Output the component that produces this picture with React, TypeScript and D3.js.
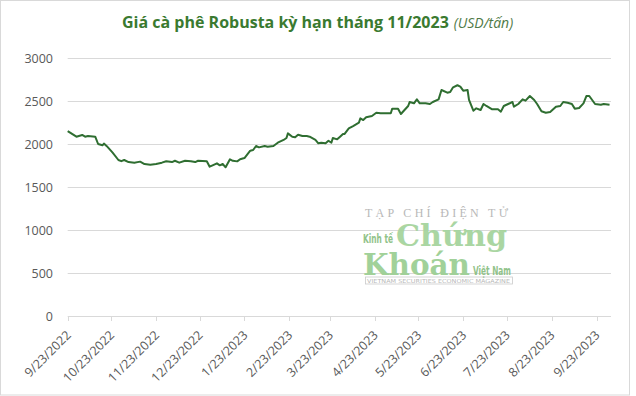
import React from "react";
import * as d3 from "d3";

const dates = [
  "2022-09-23","2022-09-29","2022-10-03","2022-10-05","2022-10-07","2022-10-12","2022-10-14","2022-10-17","2022-10-18","2022-10-20","2022-10-22","2022-10-24","2022-10-28","2022-10-30","2022-11-01","2022-11-04","2022-11-08","2022-11-12","2022-11-15","2022-11-19","2022-11-23","2022-11-27","2022-11-30","2022-12-04","2022-12-06","2022-12-09","2022-12-13","2022-12-17","2022-12-20","2022-12-22","2022-12-28","2022-12-30",
  "2023-01-01","2023-01-04","2023-01-06","2023-01-08","2023-01-10","2023-01-13","2023-01-15","2023-01-18","2023-01-20","2023-01-23","2023-01-27","2023-01-29","2023-01-31","2023-02-02","2023-02-06","2023-02-08","2023-02-12","2023-02-15","2023-02-19","2023-02-21","2023-02-22","2023-02-25","2023-02-27","2023-03-01","2023-03-04","2023-03-07","2023-03-09","2023-03-13","2023-03-15","2023-03-17","2023-03-20","2023-03-22","2023-03-24","2023-03-25","2023-03-28","2023-03-30","2023-04-01","2023-04-02","2023-04-05","2023-04-08","2023-04-12","2023-04-13","2023-04-15","2023-04-17","2023-04-21","2023-04-24","2023-04-27","2023-05-04","2023-05-05","2023-05-09","2023-05-11","2023-05-13","2023-05-16","2023-05-17","2023-05-20","2023-05-22","2023-05-24","2023-05-28","2023-05-31","2023-06-02","2023-06-06","2023-06-08","2023-06-12","2023-06-14","2023-06-16","2023-06-19","2023-06-21","2023-06-23","2023-06-26","2023-06-27","2023-06-30","2023-07-02","2023-07-05","2023-07-07","2023-07-09","2023-07-13","2023-07-17","2023-07-19","2023-07-21","2023-07-24","2023-07-27","2023-07-28","2023-07-31","2023-08-03","2023-08-05","2023-08-08","2023-08-11","2023-08-13","2023-08-16","2023-08-19","2023-08-22","2023-08-26","2023-08-29","2023-08-31","2023-09-03","2023-09-06","2023-09-08","2023-09-11","2023-09-14","2023-09-16","2023-09-18","2023-09-22","2023-09-26","2023-09-28","2023-10-02"
];

const prices = [
  2150,2085,2105,2085,2093,2085,2000,1985,2005,1975,1938,1900,1814,1800,1814,1790,1783,1795,1767,1760,1767,1783,1800,1790,1805,1783,1805,1800,1790,1805,1800,1736,
  1752,1775,1752,1767,1729,1822,1805,1798,1822,1837,1922,1930,1977,1961,1977,1969,1977,2015,2047,2070,2124,2085,2078,2108,2093,2093,2085,2047,2008,2015,2008,2038,2015,2070,2054,2085,2116,2116,2182,2209,2248,2298,2279,2310,2326,2364,2357,2357,2411,2411,2349,2387,2442,2488,2473,2519,2473,2473,2465,2488,2519,2628,2597,2605,2659,2683,2667,2620,2628,2512,2387,2415,2395,2465,2442,2403,2403,2376,2442,2465,2488,2434,2465,2519,2504,2558,2512,2465,2380,2364,2372,2434,2442,2488,2480,2465,2411,2419,2473,2558,2558,2465,2457,2465,2457
];

const yTicks = [0, 500, 1000, 1500, 2000, 2500, 3000];
const xTickLabels = [
  "9/23/2022","10/23/2022","11/23/2022","12/23/2022","1/23/2023","2/23/2023","3/23/2023",
  "4/23/2023","5/23/2023","6/23/2023","7/23/2023","8/23/2023","9/23/2023"
];
const xDomain = ["2022-09-23", "2023-10-03"];

const titleMain = "Giá cà phê Robusta kỳ hạn tháng 11/2023";
const titleUnit = "(USD/tấn)";

export default function App() {
  const W = 636, H = 396;
  const parse = d3.timeParse("%Y-%m-%d");
  const parseLabel = d3.timeParse("%m/%d/%Y");
  const x = d3.scaleTime()
    .domain([parse(xDomain[0]) as Date, parse(xDomain[1]) as Date])
    .range([67.7, 611]);
  const y = d3.scaleLinear().domain([0, 3000]).range([316, 58]);
  const pts = dates.map((d, i) => ({ d: parse(d) as Date, v: prices[i] }));
  const line = d3.line<{ d: Date; v: number }>().x(p => x(p.d)).y(p => y(p.v));
  const font = "'Open Sans', 'DejaVu Sans', sans-serif";
  const gray = "#d9d9d9";
  const textGray = "#595959";

  return (
    <svg width={W} height={H} style={{ position: "absolute", left: 0, top: 0, background: "#fff" }}>
      <rect x={0} y={0} width={W} height={H} fill="#fff" />
      <rect x={0.5} y={0.5} width={629} height={394.5} fill="none" stroke={gray} />
      <text x={122} y={28} fontFamily={font} fontSize={16} fontWeight="bold" fill="#3a7a30">
        {titleMain}
        <tspan dx={5} fontSize={14} fontWeight="normal" fontStyle="italic" fill="#4f7a47">{titleUnit}</tspan>
      </text>
      {yTicks.map(t => (
        <g key={t}>
          <line x1={67.7} x2={611} y1={Math.round(y(t)) + 0.5} y2={Math.round(y(t)) + 0.5} stroke={gray} strokeWidth={1} />
          <text x={53} y={y(t)} dy="0.36em" textAnchor="end" fontFamily={font} fontSize={12.5} fill={textGray}>{t}</text>
        </g>
      ))}
      {xTickLabels.map(l => {
        const tx = x(parseLabel(l) as Date);
        return (
          <g key={l}>
            <line x1={Math.round(tx) + 0.5} x2={Math.round(tx) + 0.5} y1={316} y2={321} stroke={gray} />
            <text transform={`translate(${tx + 4},336) rotate(-45)`} textAnchor="end" fontFamily={font} fontSize={12.5} fill={textGray}>{l}</text>
          </g>
        );
      })}
      <g opacity={0.95}>
        <text x={365} y={217} fontFamily="'Liberation Serif', 'DejaVu Serif', serif" fontSize={12} fill="#b5b5b5" textLength={143} lengthAdjust="spacing">TẠP CHÍ ĐIỆN TỬ</text>
        <text x={363} y={243} fontFamily="'Liberation Sans Narrow', 'DejaVu Sans Condensed', sans-serif" fontSize={12} fontWeight="bold" fill="#8cc084" textLength={30} lengthAdjust="spacingAndGlyphs">Kinh tế</text>
        <text x={396} y={246} fontFamily="'DejaVu Serif', serif" fontSize={29} fontWeight="bold" fill="#a6d49e" textLength={111} lengthAdjust="spacingAndGlyphs">Chứng</text>
        <text x={363} y={275} fontFamily="'DejaVu Serif', serif" fontSize={30} fontWeight="bold" fill="#9ccf94" textLength={107} lengthAdjust="spacingAndGlyphs">Khoán</text>
        <text x={473} y={275} fontFamily="'Liberation Sans Narrow', 'DejaVu Sans Condensed', sans-serif" fontSize={12} fontWeight="bold" fill="#8cc084" textLength={38} lengthAdjust="spacingAndGlyphs">Việt Nam</text>
        <rect x={365.5} y={277} width={147} height={7} fill="none" stroke="#c8c8c8" strokeWidth={0.8} />
        <text x={367} y={282.5} fontFamily="'DejaVu Sans', sans-serif" fontSize={5.5} fill="#b5b5b5" textLength={143} lengthAdjust="spacingAndGlyphs">VIETNAM SECURITIES ECONOMIC MAGAZINE</text>
      </g>
      <path d={line(pts) || ""} fill="none" stroke="#2f6e31" strokeWidth={2} strokeLinejoin="round" />
    </svg>
  );
}
